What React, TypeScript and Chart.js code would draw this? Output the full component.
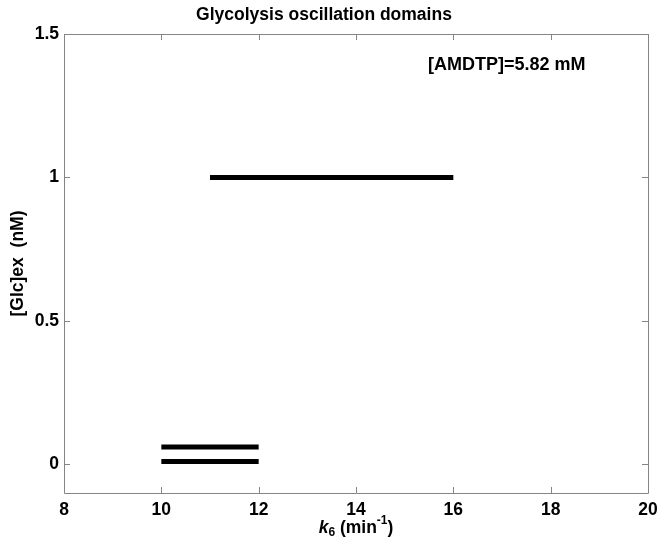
import React, { useEffect, useRef } from "react";
import { Chart, registerables } from "chart.js";

Chart.register(...registerables);

const chartTitle = "Glycolysis oscillation domains";
const yAxisTitle = "[Glc]ex  (nM)";
const xTitleParts = ["k", "6", " (min", "-1", ")"];
const annotationText = "[AMDTP]=5.82 mM";
const annotationX = 15.48;
const annotationY = 1.392;

const segStartX = [11, 10, 10];
const segEndX = [16, 12, 12];
const segY = [1, 0.06, 0.01];

const xMin = 8;
const xMax = 20;
const yMin = -0.1;
const yMax = 1.5;
const xTicks = [8, 10, 12, 14, 16, 18, 20];
const yTicks = [0, 0.5, 1, 1.5];

const FONT = "'Liberation Sans', Arial, Helvetica, sans-serif";

const framePlugin = {
  id: "frameTicks",
  afterDraw(chart: any) {
    const { ctx, chartArea } = chart;
    const xs = chart.scales.x;
    const ys = chart.scales.y;
    const { left, right, top, bottom } = chartArea;
    ctx.save();
    ctx.strokeStyle = "#858585";
    ctx.lineWidth = 1;
    ctx.beginPath();
    ctx.rect(left + 0.5, top + 0.5, right - left, bottom - top);
    ctx.stroke();
    const tl = 6;
    ctx.beginPath();
    xTicks.forEach((v) => {
      const px = Math.round(xs.getPixelForValue(v)) + 0.5;
      ctx.moveTo(px, bottom);
      ctx.lineTo(px, bottom - tl);
      ctx.moveTo(px, top);
      ctx.lineTo(px, top + tl);
    });
    yTicks.forEach((v) => {
      const py = Math.round(ys.getPixelForValue(v)) + 0.5;
      ctx.moveTo(left, py);
      ctx.lineTo(left + tl, py);
      ctx.moveTo(right, py);
      ctx.lineTo(right - tl, py);
    });
    ctx.stroke();

    // annotation
    ctx.fillStyle = "#000";
    ctx.font = `bold 18px ${FONT}`;
    ctx.textAlign = "left";
    ctx.textBaseline = "middle";
    ctx.fillText(annotationText, xs.getPixelForValue(annotationX), ys.getPixelForValue(annotationY));

    // x axis title with sub/superscripts
    const main = `bold 17.5px ${FONT}`;
    const ital = `italic bold 17.5px ${FONT}`;
    const small = `bold 12px ${FONT}`;
    const fonts = [ital, small, main, small, main];
    const offs = [0, 5, 0, -7, 0];
    let total = 0;
    const widths = xTitleParts.map((t, i) => {
      ctx.font = fonts[i];
      const w = ctx.measureText(t).width;
      total += w;
      return w;
    });
    let x = (left + right) / 2 - total / 2;
    const y = 528;
    ctx.textAlign = "left";
    ctx.textBaseline = "middle";
    xTitleParts.forEach((t, i) => {
      ctx.font = fonts[i];
      ctx.fillText(t, x, y + offs[i]);
      x += widths[i];
    });
    ctx.restore();
  },
};

export default function App() {
  const ref = useRef<HTMLCanvasElement | null>(null);
  useEffect(() => {
    if (!ref.current) return;
    const datasets = segY.map((yv, i) => ({
      data: [
        { x: segStartX[i], y: yv },
        { x: segEndX[i], y: yv },
      ],
      borderColor: "#000",
      backgroundColor: "#000",
      borderWidth: 5,
      borderCapStyle: "butt" as const,
      pointRadius: 0,
      fill: false,
    }));
    const chart = new Chart(ref.current, {
      type: "line",
      data: { datasets },
      plugins: [framePlugin],
      options: {
        animation: false,
        responsive: false,
        layout: { padding: { left: 0, right: 24, top: 0, bottom: 0 } },
        plugins: {
          legend: { display: false },
          tooltip: { enabled: false },
          title: {
            display: true,
            text: chartTitle,
            color: "#000",
            font: { family: FONT, size: 17.5, weight: "bold" },
            padding: { top: 5, bottom: 8 },
          },
        },
        scales: {
          x: {
            type: "linear",
            min: xMin,
            max: xMax,
            grid: { display: false, drawTicks: false },
            border: { display: false },
            afterBuildTicks: (s: any) => {
              s.ticks = xTicks.map((v) => ({ value: v }));
            },
            afterFit: (s: any) => {
              s.height = 49;
            },
            ticks: {
              color: "#000",
              padding: 7,
              maxRotation: 0,
              autoSkip: false,
              font: { family: FONT, size: 17.5, weight: "bold" },
              callback: (v: any) => String(v),
            },
          },
          y: {
            type: "linear",
            min: yMin,
            max: yMax,
            grid: { display: false, drawTicks: false },
            border: { display: false },
            afterBuildTicks: (s: any) => {
              s.ticks = yTicks.map((v) => ({ value: v }));
            },
            afterFit: (s: any) => {
              s.width = 64;
            },
            ticks: {
              color: "#000",
              padding: 5,
              autoSkip: false,
              font: { family: FONT, size: 17.5, weight: "bold" },
              callback: (v: any) => String(v),
            },
            title: {
              display: true,
              text: yAxisTitle,
              color: "#000",
              font: { family: FONT, size: 17.5, weight: "bold" },
              padding: { top: 8, bottom: 0 },
            },
          },
        },
      },
    });
    return () => chart.destroy();
  }, []);
  return (
    <div style={{ position: "absolute", left: 0, top: 0, width: 672, height: 542, background: "#fff" }}>
      <canvas ref={ref} width={672} height={542} />
    </div>
  );
}
